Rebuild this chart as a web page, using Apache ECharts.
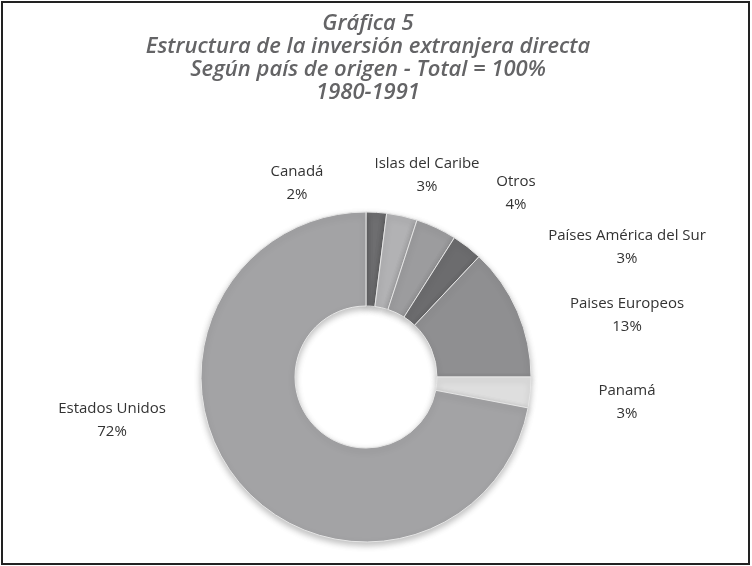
<!DOCTYPE html>
<html>
<head>
<meta charset="utf-8">
<script src="https://cdn.jsdelivr.net/npm/echarts@6/dist/echarts.min.js"></script>
<style>
html, body { margin: 0; padding: 0; background: #fff; }
#chart { width: 752px; height: 566px; }
</style>
</head>
<body>
<div id="chart"></div>
<script>
// data
var categories = ['Canadá', 'Islas del Caribe', 'Otros', 'Países América del Sur', 'Paises Europeos', 'Panamá', 'Estados Unidos'];
var shares = [2, 3, 4, 3, 13, 3, 72];
var titleLines = ['Gráfica 5', 'Estructura de la inversión extranjera directa', 'Según país de origen - Total = 100%', '1980-1991'];

// slice colours (grey scale) and label anchors
var sliceColors = ['#6e6e70', '#b2b2b4', '#9c9c9e', '#6c6c6e', '#8f8f91', '#dedede', '#a3a3a5'];
var labelAnchors = [[297, 183], [427, 175], [516, 193], [627, 247], [627, 315], [627, 402], [112, 420]];

var chart = echarts.init(document.getElementById('chart'));

var pieData = categories.map(function(name, i) {
	return {
		name: name,
		value: shares[i],
		itemStyle: { color: sliceColors[i] }
	};
});

var option = {
	animation: false,
	backgroundColor: '#fff',
	title: {
		text: titleLines.join('\n'),
		left: 363,
		textAlign: 'center',
		top: 7,
		textStyle: {
			fontFamily: 'Open Sans',
			fontStyle: 'italic',
			fontWeight: 600,
			fontSize: 22,
			lineHeight: 23,
			color: '#646466'
		}
	},
	graphic: [{
		type: 'rect',
		shape: { x: 2, y: 2, width: 747, height: 562 },
		style: { fill: 'none', stroke: '#222', lineWidth: 2 },
		silent: true
	}],
	series: [{
		type: 'pie',
		center: [366, 377],
		radius: [71, 165],
		startAngle: 90,
		clockwise: true,
		data: pieData,
		itemStyle: {
			borderColor: '#e6e6e6',
			borderWidth: 1,
			shadowBlur: 6,
			shadowOffsetY: 3,
			shadowColor: 'rgba(0,0,0,0.25)'
		},
		label: {
			show: true,
			position: 'outside',
			formatter: '{b}\n{c}%',
			fontFamily: 'Open Sans',
			fontSize: 15,
			lineHeight: 23,
			color: '#333',
			align: 'center'
		},
		labelLine: { show: false },
		labelLayout: function(params) {
			var p = labelAnchors[params.dataIndex];
			return {
				x: p[0],
				y: p[1],
				align: 'center',
				verticalAlign: 'middle'
			};
		}
	}]
};

chart.setOption(option);
</script>
</body>
</html>
